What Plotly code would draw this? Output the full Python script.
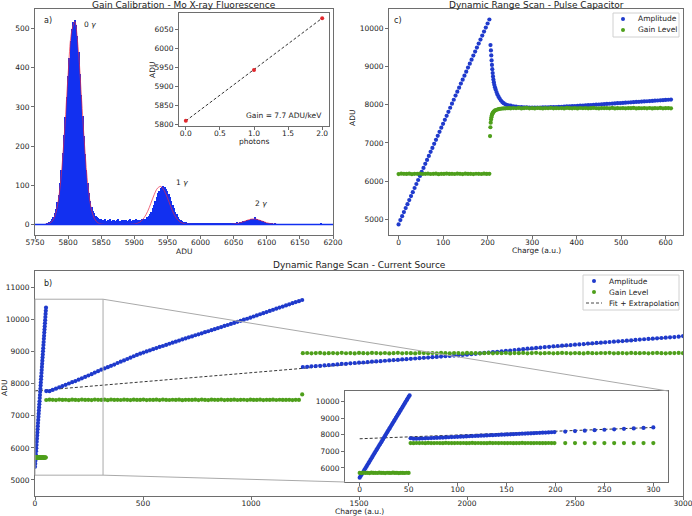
import numpy as np
import plotly.graph_objects as go

W, H = 692, 516
FONT = "DejaVu Sans"
BLUE = "#1f3acc"
GREEN = "#4e9f1b"
HIST = "#1230f0"
FITRED = "rgba(232,40,70,0.7)"
SPINE = "#6e6e6e"
TXT = "#222222"
DASH = "3px,2px"

# ---------------- panel a : histogram ----------------
hist_start, hist_step = 5764, 2
hist_counts = [
    1, 1, 2, 4, 7, 10, 14, 20, 28, 40, 56, 76, 105, 140, 182, 228, 275, 325, 378, 425,
    468, 500, 518, 521, 508, 482, 440, 385, 330, 278, 226, 180, 140, 105, 80, 60, 45, 35, 28, 22,
    18, 16, 14, 13, 11, 12, 14, 10, 12, 11, 13, 9, 11, 12, 10, 11, 13, 9, 10, 12,
    11, 10, 12, 9, 11, 13, 10, 12, 11, 13, 10, 12, 11, 12, 13, 14, 13, 15, 18, 22,
    27, 33, 41, 50, 60, 70, 79, 86, 92, 96, 99, 95, 91, 86, 78, 69, 59, 49, 41, 33,
    26, 20, 15, 12, 9, 7, 6, 5, 4, 3, 4, 2, 3, 3, 2, 4, 3, 2, 3, 4,
    2, 3, 2, 3, 4, 2, 3, 3, 2, 4, 3, 2, 3, 2, 3, 4, 2, 3, 3, 2,
    4, 3, 3, 4, 3, 4, 5, 4, 6, 7, 8, 9, 10, 11, 12, 12, 13, 14, 15, 20,
    14, 13, 12, 11, 9, 8, 7, 5, 4, 4, 3, 2, 2, 1, 2, 1, 0, 1, 1, 0,
    1, 0, 1, 0, 1, 0, 0, 1, 0, 0, 1, 0, 0, 0, 1, 0, 0, 0, 0, 0,
    1, 0, 0, 0, 0, 0, 0, 0, 0, 2, 0, 0, 0, 0, 0, 0, 0, 1,
]
fit_start, fit_step = 5765, 5
fit_counts = [
    0.3, 1.7, 6.6, 21.6, 59, 133, 248, 383, 489, 518, 454, 329, 198, 98, 40, 14, 4, 1, 0.3, 0.1,
    0, 0, 0, 0, 0, 0.1, 0.3, 1.1, 3.2, 8, 17.7, 33, 54, 76, 92.5, 97, 87, 68, 45.5, 26,
    13, 5.6, 2, 0.6, 0.2, 0, 0, 0, 0, 0, 0, 0, 0, 0, 0, 0, 0, 1, 2.2, 4.3,
    7.2, 10.4, 13, 14, 13, 10.4, 7.2, 4.3, 2.2, 1, 0.4,
]
cal_photons = [0, 1, 2]
cal_adu = [5810, 5944, 6080]
cal_fit_x = [0, 2]
cal_fit_adu = [5810, 6080]

# ---------------- panel c : pulse capacitor ----------------
c_ramp_x0, c_ramp_step = 0, 4
c_ramp_amp = [
    4868, 4980, 5082, 5190, 5295, 5398, 5505, 5610, 5712, 5820, 5925, 6030, 6135, 6242, 6345,
    6452, 6555, 6660, 6768, 6870, 6975, 7082, 7185, 7290, 7398, 7500, 7605, 7710, 7815, 7920,
    8028, 8130, 8238, 8340, 8445, 8552, 8655, 8760, 8865, 8972, 9075, 9180, 9285, 9390, 9495,
    9600, 9705, 9810, 9915, 10020, 10125, 10230,
]
c_decay_x = [206.5, 207.5, 208.3, 209, 209.8, 210.6, 211.4, 212.2, 213, 214, 215, 216.5, 218,
             220, 222, 224.5, 227, 230, 233, 236, 240, 244, 248]
c_decay_amp = [9560, 9420, 9290, 9160, 9040, 8930, 8830, 8740, 8660, 8590, 8520, 8460, 8400,
               8330, 8270, 8210, 8160, 8110, 8070, 8040, 8010, 7990, 7980]
c_flat_x0, c_flat_step = 252, 6
c_flat_amp = [
    7975, 7958, 7948, 7940, 7935, 7930, 7928, 7925, 7925, 7924, 7926, 7925, 7928, 7930, 7932,
    7935, 7938, 7940, 7943, 7946, 7950, 7954, 7958, 7962, 7966, 7970, 7975, 7980, 7984, 7988,
    7993, 7998, 8002, 8006, 8011, 8016, 8020, 8025, 8030, 8034, 8039, 8044, 8048, 8053, 8058,
    8062, 8067, 8072, 8076, 8081, 8086, 8090, 8095, 8100, 8105, 8110, 8114, 8119, 8124, 8130,
    8135,
]
c_gain_low_x0, c_gain_low_step = 0, 6
c_gain_low = [
    6185, 6195, 6190, 6188, 6196, 6182, 6192, 6190, 6198, 6186, 6191, 6194, 6187, 6190, 6195,
    6183, 6192, 6189, 6197, 6188, 6191, 6186, 6194, 6190, 6185, 6196, 6189, 6192, 6184, 6193,
    6190, 6187, 6195, 6188, 6191,
]
c_jump_x = [205.5, 206.3, 207, 207.8, 208.6, 209.4, 210.3, 211.2, 212.2, 213.5, 215, 217, 219,
            222, 225, 228, 232, 236, 240, 244, 248]
c_jump_gain = [7180, 7410, 7530, 7610, 7670, 7715, 7750, 7775, 7795, 7815, 7835, 7850, 7862,
               7875, 7885, 7892, 7898, 7903, 7906, 7908, 7910]
c_gain_high = [
    7905, 7912, 7908, 7915, 7903, 7910, 7918, 7906, 7911, 7904, 7914, 7909, 7902, 7913, 7907,
    7916, 7905, 7910, 7908, 7912, 7904, 7915, 7909, 7906, 7911, 7903, 7914, 7908, 7912, 7905,
    7910, 7916, 7907, 7904, 7913, 7909, 7911, 7906, 7915, 7902, 7910, 7908, 7913, 7905, 7911,
    7909, 7916, 7904, 7910, 7907, 7912, 7906, 7914, 7903, 7911, 7908, 7915, 7905, 7910, 7912,
    7906,
]

# ---------------- panel b : current source ----------------
b_ramp_x0, b_ramp_step = 0, 1
b_ramp_amp = [
    5410, 5505, 5598, 5702, 5795, 5898, 5992, 6090, 6192, 6288, 6385, 6482, 6580, 6678, 6775,
    6872, 6970, 7068, 7165, 7262, 7360, 7455, 7555, 7650, 7750, 7845, 7945, 8040, 8140, 8235,
    8335, 8430, 8528, 8625, 8722, 8820, 8915, 9015, 9110, 9210, 9305, 9405, 9500, 9600, 9695,
    9790, 9890, 9985, 10085, 10180, 10280, 10375,
]
b_low_x0, b_low_step = 0, 2
b_gain_low = [
    5700, 5690, 5712, 5695, 5705, 5688, 5715, 5698, 5702, 5692, 5710, 5696, 5704, 5690, 5708,
    5699, 5693, 5711, 5697, 5703, 5689, 5706, 5700, 5694, 5709, 5698,
]
b_mid_x0, b_mid_step = 52, 15
b_mid_amp = [
    7775, 7770, 7810, 7850, 7890, 7930, 7970, 8010, 8050, 8085, 8130, 8170, 8215, 8260, 8300,
    8350, 8395, 8440, 8480, 8520, 8560, 8600, 8650, 8690, 8730, 8775, 8815, 8860, 8900, 8940,
    8975, 9010, 9045, 9080, 9115, 9150, 9180, 9215, 9250, 9285, 9315, 9350, 9385, 9415, 9450,
    9480, 9515, 9545, 9575, 9610, 9640, 9675, 9705, 9740, 9770, 9805, 9835, 9870, 9900, 9935,
    9965, 10000, 10030, 10065, 10100, 10135, 10170, 10205, 10240, 10275, 10310, 10345, 10380, 10410, 10445,
    10480, 10515, 10550, 10580, 10615,
]
b_gain_mid = [
    7495, 7505, 7500, 7492, 7508, 7498, 7503, 7490, 7506, 7499, 7494, 7510, 7497, 7502, 7493,
    7507, 7500, 7496, 7504, 7491, 7509, 7498, 7502, 7495, 7506, 7500, 7493, 7505, 7499, 7497,
    7508, 7494, 7501, 7496, 7504, 7492, 7507, 7499, 7495, 7503, 7498, 7506, 7491, 7502, 7500,
    7497, 7505, 7494, 7508, 7499, 7493, 7504, 7500, 7496, 7507, 7492, 7502, 7498, 7505, 7495,
    7500, 7503, 7494, 7506, 7499, 7497, 7504, 7492, 7501, 7498, 7505, 7495, 7503, 7499, 7496,
    7502, 7494, 7500, 7497, 7670,
]
b_high_x0, b_high_step = 1240, 20
b_high_amp = [
    8525, 8530, 8545, 8555, 8560, 8575, 8585, 8595, 8605, 8620, 8625, 8640, 8650, 8660, 8665,
    8680, 8690, 8700, 8705, 8720, 8730, 8740, 8745, 8760, 8770, 8780, 8790, 8800, 8810, 8820,
    8830, 8840, 8850, 8860, 8870, 8880, 8890, 8900, 8910, 8925, 8935, 8950, 8965, 8975, 8990,
    9000, 9015, 9030, 9040, 9055, 9065, 9080, 9095, 9105, 9120, 9130, 9145, 9155, 9170, 9180,
    9190, 9200, 9210, 9220, 9230, 9240, 9255, 9265, 9275, 9285, 9295, 9305, 9315, 9325, 9335,
    9345, 9355, 9370, 9380, 9390, 9400, 9410, 9420, 9430, 9440, 9450, 9460, 9470, 9490,
]
b_gain_high = [
    8955, 8962, 8950, 8958, 8965, 8948, 8957, 8960, 8952, 8966, 8954, 8959, 8947, 8963, 8956,
    8951, 8964, 8958, 8953, 8961, 8949, 8957, 8966, 8952, 8960, 8955, 8947, 8963, 8958, 8950,
    8961, 8954, 8967, 8956, 8951, 8962, 8958, 8949, 8964, 8955, 8960, 8952, 8957, 8965, 8950,
    8959, 8954, 8962, 8948, 8960, 8956, 8963, 8951, 8958, 8966, 8953, 8957, 8961, 8950, 8955,
    8964, 8958, 8952, 8960, 8956, 8949, 8963, 8957, 8954, 8961, 8958, 8966, 8952, 8956, 8960,
    8950, 8963, 8957, 8955, 8962, 8953, 8959, 8965, 8956, 8951, 8960, 8958, 8963, 8957,
]
b_fit_x = [0, 3000]
b_fit_amp = [7780, 9480]

# inset of panel b
bi_mid_x0, bi_mid_step = 52, 3
bi_mid_amp = [
    7790, 7765, 7760, 7768, 7775, 7782, 7790, 7800, 7808, 7815, 7825, 7833, 7842, 7850, 7858,
    7866, 7875, 7884, 7892, 7900, 7909, 7918, 7926, 7935, 7943, 7952, 7960, 7969, 7977, 7986,
    7995, 8003, 8012, 8020, 8029, 8038, 8046, 8055, 8063, 8072, 8080, 8089, 8098, 8106, 8115,
    8123, 8132, 8141, 8150, 8160,
]
bi_gain_mid = [
    7500, 7495, 7504, 7498, 7502, 7493, 7506, 7499, 7497, 7503, 7500, 7494, 7505, 7498, 7501,
    7496, 7504, 7499, 7502, 7495, 7500, 7506, 7497, 7503, 7498, 7501, 7494, 7505, 7499, 7502,
    7496, 7504, 7500, 7497, 7503, 7495, 7501, 7498, 7505, 7499, 7502, 7496, 7500, 7504, 7497,
    7501, 7499, 7503, 7496, 7500,
]
bi_sparse_x0, bi_sparse_step = 210, 10
bi_sparse_amp = [8195, 8220, 8248, 8275, 8302, 8330, 8357, 8385, 8412, 8440]
bi_sparse_gain = [7498, 7500, 7497, 7501, 7499, 7500, 7498, 7501, 7499, 7497]
bi_fit_x = [0, 300]
bi_fit_amp = [7758, 8440]


def grid(x0, step, vals):
    return x0 + step * np.arange(len(vals))


# ---------------- layout helpers ----------------
def dx(p0, p1):
    return [p0 / W, p1 / W]


def dy(p0, p1):
    return [1 - p1 / H, 1 - p0 / H]


def ax(**kw):
    d = dict(showline=True, mirror=True, linecolor=SPINE, linewidth=1, ticks="outside",
             ticklen=3, tickcolor=SPINE, tickfont=dict(size=7.5, color=TXT, family=FONT),
             showgrid=False, zeroline=False, automargin=False, tickformat="d",
             ticklabeloverflow="allow")
    d.update(kw)
    return d


fig = go.Figure()

# panel a
fx = grid(fit_start, fit_step, fit_counts)
fig.add_trace(go.Scatter(x=fx, y=fit_counts, mode="lines", line=dict(color=FITRED, width=1.0, shape="spline"),
                         showlegend=False, xaxis="x", yaxis="y"))
hx = grid(hist_start, hist_step, hist_counts)
fig.add_trace(go.Bar(x=hx, y=hist_counts, width=hist_step, marker=dict(color=HIST, line=dict(width=0)),
                     showlegend=False, xaxis="x", yaxis="y"))
fig.add_trace(go.Scatter(x=cal_fit_x, y=cal_fit_adu, mode="lines", line=dict(color="black", width=0.8, dash=DASH),
                         showlegend=False, xaxis="x2", yaxis="y2"))
fig.add_trace(go.Scatter(x=cal_photons, y=cal_adu, mode="markers", marker=dict(color="#e0282e", size=4),
                         showlegend=False, xaxis="x2", yaxis="y2"))

MS = 4.2
# panel c
c_amp_x = np.concatenate([grid(c_ramp_x0, c_ramp_step, c_ramp_amp), c_decay_x, grid(c_flat_x0, c_flat_step, c_flat_amp)])
c_amp_y = np.concatenate([c_ramp_amp, c_decay_amp, c_flat_amp])
c_gain_x = np.concatenate([grid(c_gain_low_x0, c_gain_low_step, c_gain_low), c_jump_x, grid(c_flat_x0, c_flat_step, c_gain_high)])
c_gain_y = np.concatenate([c_gain_low, c_jump_gain, c_gain_high])
fig.add_trace(go.Scatter(x=c_amp_x, y=c_amp_y, mode="markers", name="Amplitude", marker=dict(color=BLUE, size=MS),
                         showlegend=False, xaxis="x3", yaxis="y3"))
fig.add_trace(go.Scatter(x=c_gain_x, y=c_gain_y, mode="markers", name="Gain Level", marker=dict(color=GREEN, size=MS),
                         showlegend=False, xaxis="x3", yaxis="y3"))

# panel b main
b_amp_x = np.concatenate([grid(b_ramp_x0, b_ramp_step, b_ramp_amp), grid(b_mid_x0, b_mid_step, b_mid_amp), grid(b_high_x0, b_high_step, b_high_amp)])
b_amp_y = np.concatenate([b_ramp_amp, b_mid_amp, b_high_amp])
b_gain_x = np.concatenate([grid(b_low_x0, b_low_step, b_gain_low), grid(b_mid_x0, b_mid_step, b_gain_mid), grid(b_high_x0, b_high_step, b_gain_high)])
b_gain_y = np.concatenate([b_gain_low, b_gain_mid, b_gain_high])
fig.add_trace(go.Scatter(x=b_fit_x, y=b_fit_amp, mode="lines", name="Fit + Extrapolation",
                         line=dict(color="black", width=0.8, dash=DASH), showlegend=False, xaxis="x4", yaxis="y4"))
fig.add_trace(go.Scatter(x=b_amp_x, y=b_amp_y, mode="markers", name="Amplitude", marker=dict(color=BLUE, size=MS),
                         showlegend=False, xaxis="x4", yaxis="y4"))
fig.add_trace(go.Scatter(x=b_gain_x, y=b_gain_y, mode="markers", name="Gain Level", marker=dict(color=GREEN, size=MS),
                         showlegend=False, xaxis="x4", yaxis="y4"))

# panel b inset
bi_amp_x = np.concatenate([grid(b_ramp_x0, b_ramp_step, b_ramp_amp), grid(bi_mid_x0, bi_mid_step, bi_mid_amp), grid(bi_sparse_x0, bi_sparse_step, bi_sparse_amp)])
bi_amp_y = np.concatenate([b_ramp_amp, bi_mid_amp, bi_sparse_amp])
bi_gain_x = np.concatenate([grid(b_low_x0, b_low_step, b_gain_low), grid(bi_mid_x0, bi_mid_step, bi_gain_mid), grid(bi_sparse_x0, bi_sparse_step, bi_sparse_gain)])
bi_gain_y = np.concatenate([b_gain_low, bi_gain_mid, bi_sparse_gain])
fig.add_trace(go.Scatter(x=bi_fit_x, y=bi_fit_amp, mode="lines", line=dict(color="black", width=0.8, dash=DASH),
                         showlegend=False, xaxis="x5", yaxis="y5"))
fig.add_trace(go.Scatter(x=bi_amp_x, y=bi_amp_y, mode="markers", marker=dict(color=BLUE, size=MS),
                         showlegend=False, xaxis="x5", yaxis="y5"))
fig.add_trace(go.Scatter(x=bi_gain_x, y=bi_gain_y, mode="markers", marker=dict(color=GREEN, size=MS),
                         showlegend=False, xaxis="x5", yaxis="y5"))

# axes geometry (pixels)
A = dict(x=(35, 333), y=(9, 235), xr=[5750, 6200], yr=[-27, 550])
AI = dict(x=(179, 329), y=(13, 126), xr=[-0.1, 2.1], yr=[5796.5, 6093.5])
C = dict(x=(389, 683), y=(9, 235), xr=[-21.5, 639], yr=[4590, 10505])
B = dict(x=(35, 683), y=(271, 496), xr=[0, 3000], yr=[4500, 11520])
BI = dict(x=(345, 668), y=(391, 482), xr=[-15, 315], yr=[5150, 10640])

XS = dict(ticklabelstandoff=-3)
fig.update_layout(
    width=W, height=H, margin=dict(l=0, r=0, t=0, b=0, autoexpand=False),
    paper_bgcolor="white", plot_bgcolor="white", bargap=0, showlegend=False,
    font=dict(family=FONT, color=TXT, size=7.5),
    xaxis=ax(domain=dx(*A["x"]), range=A["xr"], anchor="y", tickvals=list(range(5750, 6201, 50)), **XS),
    yaxis=ax(domain=dy(*A["y"]), range=A["yr"], anchor="x", tickvals=list(range(0, 501, 100))),
    xaxis2=ax(domain=dx(*AI["x"]), range=AI["xr"], anchor="y2", tickvals=[0, 0.5, 1, 1.5, 2],
              ticktext=["0.0", "0.5", "1.0", "1.5", "2.0"], tickformat=None, **XS),
    yaxis2=ax(domain=dy(*AI["y"]), range=AI["yr"], anchor="x2", tickvals=list(range(5800, 6051, 50))),
    xaxis3=ax(domain=dx(*C["x"]), range=C["xr"], anchor="y3", tickvals=list(range(0, 601, 100)), **XS),
    yaxis3=ax(domain=dy(*C["y"]), range=C["yr"], anchor="x3", tickvals=list(range(5000, 10001, 1000))),
    xaxis4=ax(domain=dx(*B["x"]), range=B["xr"], anchor="y4", tickvals=list(range(0, 3001, 500)), **XS),
    yaxis4=ax(domain=dy(*B["y"]), range=B["yr"], anchor="x4", tickvals=list(range(5000, 11001, 1000))),
    xaxis5=ax(domain=dx(*BI["x"]), range=BI["xr"], anchor="y5", tickvals=list(range(0, 301, 50)), **XS),
    yaxis5=ax(domain=dy(*BI["y"]), range=BI["yr"], anchor="x5", tickvals=list(range(6000, 10001, 1000))),
)

# baseline of histogram
shapes = [dict(type="line", xref="x domain", yref="y", x0=0, x1=1, y0=0, y1=0,
               line=dict(color=HIST, width=1.5))]


def to_paper(P, xv, yv):
    px = P["x"][0] + (xv - P["xr"][0]) / (P["xr"][1] - P["xr"][0]) * (P["x"][1] - P["x"][0])
    py = P["y"][1] - (yv - P["yr"][0]) / (P["yr"][1] - P["yr"][0]) * (P["y"][1] - P["y"][0])
    return px / W, 1 - py / H


# zoom rectangle in panel b and connector lines to the inset
rx0, ry0 = to_paper(B, max(BI["xr"][0], B["xr"][0]), BI["yr"][0])
rx1, ry1 = to_paper(B, BI["xr"][1], BI["yr"][1])
ZC = "#a9a9a9"
shapes.append(dict(type="rect", xref="paper", yref="paper", x0=rx0, x1=rx1, y0=ry0, y1=ry1,
                   line=dict(color=ZC, width=1)))
ix0, ix1 = BI["x"][0] / W, BI["x"][1] / W
iy_top, iy_bot = 1 - BI["y"][0] / H, 1 - BI["y"][1] / H
shapes.append(dict(type="line", xref="paper", yref="paper", x0=rx1, y0=ry1, x1=ix1, y1=iy_top,
                   line=dict(color=ZC, width=1)))
shapes.append(dict(type="line", xref="paper", yref="paper", x0=rx1, y0=ry0, x1=ix0, y1=iy_bot,
                   line=dict(color=ZC, width=1)))


def note(text, px, py, size=7.5, xanchor="left", angle=0):
    fig.add_annotation(text=text, x=px / W, y=1 - py / H, xref="paper", yref="paper", showarrow=False,
                       xanchor=xanchor, yanchor="middle", textangle=angle,
                       font=dict(size=size, family=FONT, color=TXT))


# hand-placed legends (matplotlib style, compact)
def legend(box, rows):
    x0, y0, x1, y1 = box
    shapes.append(dict(type="rect", xref="paper", yref="paper", x0=x0 / W, x1=x1 / W,
                       y0=1 - y1 / H, y1=1 - y0 / H, line=dict(color="#d0d0d0", width=1),
                       fillcolor="rgba(255,255,255,0.85)", layer="above"))
    for kind, color, label, mx, tx, py in rows:
        if kind == "marker":
            r = 2.0
            shapes.append(dict(type="circle", xref="paper", yref="paper", x0=(mx - r) / W, x1=(mx + r) / W,
                               y0=1 - (py + r) / H, y1=1 - (py - r) / H, fillcolor=color,
                               line=dict(color=color, width=0), layer="above"))
        else:
            shapes.append(dict(type="line", xref="paper", yref="paper", x0=(mx - 8) / W, x1=(mx + 8) / W,
                               y0=1 - py / H, y1=1 - py / H, line=dict(color=color, width=0.9, dash=DASH),
                               layer="above"))
        note(label, tx, py, 7.5)


legend((613, 13, 679, 37), [("marker", BLUE, "Amplitude", 623, 636, 19),
                            ("marker", GREEN, "Gain Level", 623, 636, 30)])
legend((583, 275, 679, 310), [("marker", BLUE, "Amplitude", 594, 607, 281),
                              ("marker", GREEN, "Gain Level", 594, 607, 292),
                              ("line", "#333333", "Fit + Extrapolation", 594, 607, 303)])
fig.update_layout(shapes=shapes)

note("Gain Calibration - Mo X-ray Fluorescence", 184, 5, 9, "center")
note("Dynamic Range Scan - Pulse Capacitor", 536, 5, 9, "center")
note("Dynamic Range Scan - Current Source", 359, 265, 9, "center")
note("a)", 42, 21, 8)
note("c)", 392, 21, 8)
note("b)", 42, 283, 8)
note("0 <i>γ</i>", 82, 25, 7.5)
note("1 <i>γ</i>", 174, 183, 7.5)
note("2 <i>γ</i>", 253, 203, 7.5)
note("Gain = 7.7 ADU/keV", 324, 116, 7.5, "right")
# axis titles
note("ADU", 184, 251, 7.5, "center")
note("photons", 254, 141, 7.5, "center")
note("ADU", 152, 70, 7.5, "center", -90)
note("Charge (a.u.)", 536, 250, 7.5, "center")
note("ADU", 353, 118, 7.5, "center", -90)
note("Charge (a.u.)", 359, 511, 7.5, "center")
note("ADU", 4, 388, 7.5, "center", -90)

fig.write_html("out.html", config={"displayModeBar": False},
               post_script="document.body.style.margin='0px';document.body.style.padding='0px';")
